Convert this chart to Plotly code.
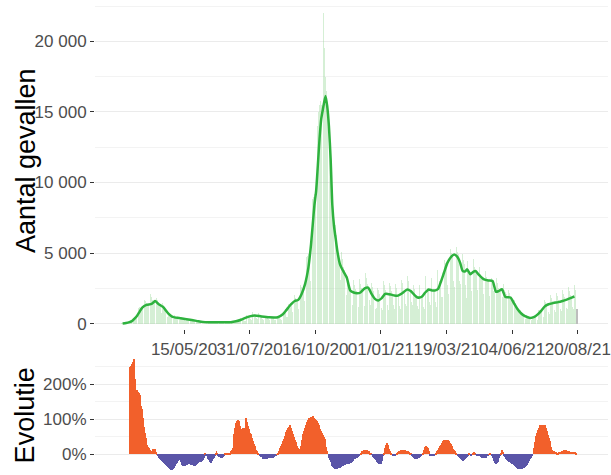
import pandas as pd
import plotly.graph_objects as go

# ---------------- data ----------------
# daily confirmed cases, starting Monday 2020-03-02 (one row per week)
cases = [
    10, 15, 20, 25, 30, 20, 20,
    60, 90, 120, 150, 190, 190, 200,
    350, 400, 450, 500, 550, 430, 400,
    1100, 1150, 1100, 1150, 1150, 850, 800,
    1700, 1600, 1450, 1400, 1350, 900, 750,
    2100, 1900, 1700, 1600, 1450, 950, 800,
    1800, 1700, 1500, 1400, 1300, 850, 750,
    1450, 1300, 1150, 1050, 950, 600, 500,
    800, 720, 640, 580, 540, 360, 300,
    580, 520, 460, 430, 400, 260, 230,
    480, 430, 380, 360, 330, 220, 190,
    400, 350, 310, 290, 280, 180, 150,
    300, 265, 235, 220, 210, 135, 115,
    215, 190, 165, 155, 150, 95, 80,
    140, 125, 110, 105, 100, 65, 55,
    125, 112, 100, 95, 90, 58, 50,
    130, 110, 98, 92, 88, 60, 52,
    120, 105, 95, 90, 85, 55, 45,
    130, 120, 110, 105, 100, 65, 70,
    210, 200, 190, 180, 175, 120, 115,
    380, 360, 340, 320, 310, 200, 190,
    620, 580, 550, 520, 500, 320, 270,
    800, 710, 630, 600, 570, 370, 310,
    730, 650, 570, 550, 520, 340, 280,
    630, 560, 500, 470, 450, 290, 250,
    590, 525, 460, 440, 420, 275, 230,
    620, 570, 510, 490, 480, 300, 250,
    880, 820, 760, 740, 730, 500, 470,
    1500, 1400, 1300, 1300, 1280, 850, 770,
    2200, 2000, 1800, 1700, 1650, 1050, 940,
    2900, 2700, 2600, 2550, 2500, 1600, 1250,
    4600, 4700, 4800, 4900, 4800, 3000, 2600,
    8600, 8800, 9000, 9200, 9000, 6100, 5300,
    14000, 15000, 15500, 15800, 15500, 10200, 8500,
    22000, 19500, 17500, 16500, 15000, 10000, 10100,
    12500, 11000, 9500, 8500, 7500, 5000, 4800,
    7000, 6300, 5400, 5000, 4600, 2900, 3100,
    5100, 4600, 4000, 3800, 3600, 2400, 2050,
    3400, 3000, 2650, 2500, 2400, 1500, 1350,
    3100, 2750, 2420, 2300, 2200, 1430, 1200,
    3150, 2800, 2500, 2350, 2250, 1450, 1250,
    3600, 3200, 2800, 2700, 2550, 1650, 1350,
    2900, 2600, 2300, 2000, 1400, 1000, 1100,
    2500, 2400, 2100, 1500, 1000, 1100, 950,
    3000, 2700, 2400, 2250, 2100, 1300, 950,
    2900, 2650, 2300, 2200, 2100, 1350, 1060,
    2800, 2500, 2200, 2100, 2000, 1250, 1010,
    3100, 2850, 2500, 2400, 2250, 1400, 1250,
    3400, 3000, 2650, 2500, 2400, 1550, 1300,
    2750, 2450, 2150, 2050, 1950, 1250, 1050,
    2700, 2400, 2100, 2000, 1900, 1200, 1000,
    3400, 3000, 2650, 2500, 2400, 1550, 1300,
    3250, 2900, 2550, 2400, 2300, 1500, 1200,
    3800, 3500, 3200, 3050, 2950, 1900, 1900,
    5300, 5000, 4500, 4300, 4100, 2700, 2100,
    6300, 5900, 5300, 5000, 4800, 3000, 2600,
    6400, 6000, 5400, 5100, 4900, 3000, 2800,
    3000, 5500, 4900, 4500, 4200, 2700, 1800,
    5000, 4400, 3900, 3700, 3550, 2300, 2000,
    5100, 4600, 4000, 3800, 3650, 2400, 2000,
    4500, 4000, 3500, 3350, 3200, 2100, 1750,
    4200, 3750, 3300, 3150, 3000, 1950, 1650,
    3650, 3250, 2850, 2300, 2600, 1700, 1850,
    3200, 2900, 2550, 2400, 2300, 1500, 1250,
    1900, 2800, 2400, 2250, 2100, 1100, 750,
    2400, 2150, 1900, 1800, 1700, 1050, 900,
    1650, 1450, 1200, 1100, 1000, 650, 650,
    950, 850, 720, 680, 620, 400, 330,
    600, 540, 470, 440, 410, 250, 230,
    560, 540, 510, 490, 480, 310, 260,
    950, 950, 900, 880, 860, 570, 490,
    1650, 1550, 1400, 1350, 1300, 850, 650,
    2000, 1800, 1600, 1520, 1450, 950, 830,
    2150, 1950, 1700, 1630, 1550, 1000, 870,
    2350, 2100, 1850, 1800, 1700, 1100, 1000,
    2600, 2300, 2050, 1950, 1850, 1200, 1000,
    2700, 2400, 2150, 1000,
]
cases_start = "2020-03-02"

# smoothed number of cases
trend_dates = [
    "2020-03-04", "2020-03-08", "2020-03-12", "2020-03-15", "2020-03-18", "2020-03-21",
    "2020-03-24", "2020-03-27", "2020-04-01", "2020-04-07", "2020-04-11", "2020-04-15",
    "2020-04-21", "2020-04-24", "2020-04-27", "2020-05-01", "2020-05-05", "2020-05-09",
    "2020-05-16", "2020-05-24", "2020-06-01", "2020-06-06", "2020-06-12", "2020-06-20",
    "2020-07-01", "2020-07-09", "2020-07-15", "2020-07-21", "2020-07-26", "2020-07-31",
    "2020-08-06", "2020-08-14", "2020-08-23", "2020-09-02", "2020-09-08", "2020-09-12",
    "2020-09-16", "2020-09-19", "2020-09-22", "2020-09-26", "2020-09-30", "2020-10-04",
    "2020-10-08", "2020-10-11", "2020-10-13", "2020-10-15", "2020-10-17", "2020-10-19",
    "2020-10-21", "2020-10-23", "2020-10-25", "2020-10-28", "2020-10-30", "2020-11-01",
    "2020-11-03", "2020-11-05", "2020-11-07", "2020-11-09", "2020-11-11", "2020-11-14",
    "2020-11-18", "2020-11-22", "2020-11-26", "2020-11-30", "2020-12-04", "2020-12-08",
    "2020-12-13", "2020-12-17", "2020-12-21", "2020-12-25", "2020-12-29", "2021-01-02",
    "2021-01-06", "2021-01-09", "2021-01-13", "2021-01-17", "2021-01-21", "2021-01-26",
    "2021-02-01", "2021-02-05", "2021-02-09", "2021-02-13", "2021-02-18", "2021-02-22",
    "2021-02-26", "2021-03-02", "2021-03-06", "2021-03-09", "2021-03-12", "2021-03-16",
    "2021-03-20", "2021-03-24", "2021-03-28", "2021-04-01", "2021-04-04", "2021-04-07",
    "2021-04-10", "2021-04-12", "2021-04-16", "2021-04-19", "2021-04-22", "2021-04-26",
    "2021-05-02", "2021-05-07", "2021-05-12", "2021-05-16", "2021-05-19", "2021-05-23",
    "2021-05-27", "2021-06-02", "2021-06-06", "2021-06-10", "2021-06-14", "2021-06-19",
    "2021-06-25", "2021-06-30", "2021-07-04", "2021-07-08", "2021-07-12", "2021-07-16",
    "2021-07-22", "2021-07-28", "2021-08-02", "2021-08-07", "2021-08-12", "2021-08-16",
]
trend_values = [
    5, 40, 100, 170, 350, 560,
    850, 1130, 1330, 1390, 1600, 1390,
    1150, 900, 680, 490, 420, 395,
    330, 255, 165, 120, 95, 90,
    85, 95, 160, 270, 400, 510,
    580, 500, 440, 450, 660, 950,
    1260, 1450, 1600, 1680, 2100, 2800,
    4000, 5600, 7000, 8400, 9400, 11200,
    13100, 14500, 15200, 16130, 15400, 14000,
    11700, 8400, 6900, 6000, 5100, 4200,
    3700, 3250, 2350, 2200, 2150, 2200,
    2500, 2550, 2100, 1750, 1640, 1800,
    2100, 2100, 2050, 1990, 1980, 2150,
    2420, 2300, 2050, 1850, 1900, 2200,
    2420, 2350, 2350, 2450, 2900, 3600,
    4300, 4700, 4900, 4700, 4300, 3720,
    3700, 3850, 3490, 3650, 3720, 3450,
    3130, 3050, 3020, 2250, 2300, 2430,
    1880, 1850, 1450, 1050, 750, 520,
    400, 470, 650, 900, 1200, 1350,
    1450, 1520, 1600, 1700, 1820, 1920,
]

# week-on-week evolution (%), daily from 2020-03-13 (one row per month)
evolution_pct = [
    250, 252, 258, 262, 272, 248, 215, 184, 182, 178, 174, 168, 150, 137, 130, 105, 78, 60, 47,
    36, 26, 21, 19, 12, 9, 11, 14, 16, 17, 15, 6, 1, -3, -6, -11, -14, -16, -18, -21, -24, -26, -28, -31, -33, -36, -38, -40, -42, -43,
    -44, -41, -38, -35, -32, -28, -24, -18, -14, -17, -20, -28, -30, -32, -33, -33, -31, -30, -29, -28, -27, -28, -29, -28, -30, -31, -32, -33, -30, -27, -25,
    -24, -22, -21, -20, -19, -16, -12, -9, 5, -2, -5, -14, -17, -20, -22, -24, -19, -14, -9, -5, 3, 9, 2, -3, -6, -8, -9, -9, -9, -6,
    -3, 2, 4, 5, 5, 4, 5, 5, 9, 14, 19, 38, 57, 75, 90, 96, 99, 97, 94, 82, 71, 73, 75, 75, 75, 88, 104, 92, 80, 73, 66,
    62, 57, 48, 38, 31, 24, 19, 14, 9, 5, 1, -3, -6, -8, -10, -12, -13, -14, -13, -12, -11, -11, -11, -11, -11, -10, -9, -8, -8, -5, -3,
    1, 5, 10, 14, 19, 24, 31, 38, 45, 52, 58, 64, 70, 75, 79, 83, 80, 75, 67, 59, 50, 42, 36, 30, 24, 19, 15, 11, 25, 42,
    50, 58, 66, 75, 83, 91, 99, 101, 103, 105, 106, 107, 108, 106, 104, 101, 97, 94, 90, 84, 78, 72, 66, 61, 56, 50, 45, 34, 22, 9, 0,
    -9, -15, -21, -27, -33, -36, -38, -40, -42, -41, -40, -39, -38, -37, -35, -34, -33, -32, -31, -29, -28, -28, -28, -27, -26, -25, -24, -21, -19, -16,
    -14, -12, -10, -9, -8, -5, -3, 0, 3, 9, 10, 12, 13, 14, 13, 12, 10, 9, 5, 2, -1, -3, -6, -9, -13, -17, -21, -24, -25, -26, -26,
    -26, -18, -10, -2, 5, 19, 26, 33, 28, 24, 16, 9, 4, 0, -3, -5, -4, -2, 0, 3, 6, 9, 11, 13, 14, 14, 13, 13, 12, 12, 11,
    10, 9, 8, 5, 2, -2, -5, -8, -11, -13, -14, -13, -12, -11, -11, -8, -4, 0, 5, 12, 19, 22, 25, 22, 18, 13, 9, -2,
    -3, -3, -3, -2, -1, -1, 3, 9, 14, 19, 24, 28, 31, 34, 37, 40, 41, 42, 42, 41, 40, 38, 34, 30, 25, 21, 17, 13, 9, 5, 1,
    -3, -5, -8, -11, -14, -17, -19, -17, -15, -13, -11, -8, -3, 5, 1, -2, -3, -1, 2, 6, 2, -1, -2, -3, -4, -4, -5, -6, -8, -9,
    -10, -11, -11, -10, -8, -5, -2, 1, 3, 1, -5, -10, -14, -19, -23, -26, -24, -21, -18, -10, -3, 5, 14, 6, -3, -8, -11, -14, -17, -19, -21,
    -22, -23, -24, -26, -28, -31, -33, -35, -37, -39, -40, -41, -42, -42, -41, -40, -39, -38, -35, -33, -30, -28, -24, -19, -14, -9, -5, -2, 8, 19,
    36, 52, 62, 71, 76, 80, 83, 84, 85, 85, 84, 84, 83, 75, 66, 56, 47, 38, 30, 22, 14, 11, 9, 8, 7, 6, 5, 5, 6, 7, 8,
    9, 10, 11, 12, 13, 12, 11, 10, 9, 9, 8, 8, 8, 7, 7, 7, 6, 5,
]
evolution_start = "2020-03-13"

tick_dates = ["2020-05-15", "2020-07-31", "2020-10-16", "2021-01-01",
              "2021-03-19", "2021-06-04", "2021-08-20"]
tick_labels = ["15/05/20", "31/07/20", "16/10/20", "01/01/21",
               "19/03/21", "04/06/21", "20/08/21"]

# ---------------- figure ----------------
case_dates = pd.date_range(cases_start, periods=len(cases), freq="D")
evo_dates = pd.date_range(evolution_start, periods=len(evolution_pct), freq="D")
evo_frac = [v / 100 for v in evolution_pct]

bar_colors = ["rgba(150,215,150,0.4)"] * (len(cases) - 1) + ["#BDBDBD"]
evo_colors = ["#F2602B" if v >= 0 else "#5A55A8" for v in evolution_pct]

FONT = "Liberation Sans, Arial, sans-serif"
DAY_MS = 86400000
H = 475

fig = go.Figure()
fig.add_trace(go.Bar(x=case_dates, y=cases, marker=dict(color=bar_colors, line=dict(width=0)),
                     width=DAY_MS * 0.85, xaxis="x", yaxis="y", hoverinfo="skip"))
fig.add_trace(go.Scatter(x=pd.to_datetime(trend_dates), y=trend_values, mode="lines",
                         line=dict(color="#2EB23E", width=2.5, shape="spline", smoothing=0.6),
                         xaxis="x", yaxis="y"))
fig.add_trace(go.Bar(x=evo_dates, y=evo_frac, marker=dict(color=evo_colors, line=dict(width=0)),
                     width=DAY_MS * 0.85, xaxis="x2", yaxis="y2"))

xrange = ["2020-01-31 14:00", "2021-09-24 10:00"]
tick_common = dict(tickfont=dict(family=FONT, size=17, color="#4D4D4D"),
                   ticks="outside", ticklen=4, tickwidth=1, tickcolor="#333333")

fig.update_layout(
    width=611, height=H,
    margin=dict(l=95, r=0, t=0, b=0),
    paper_bgcolor="white", plot_bgcolor="white",
    showlegend=False, bargap=0, separators=", ",
    font=dict(family=FONT),
    xaxis=dict(type="date", range=xrange, domain=[0, 1], anchor="y",
               tickmode="array", tickvals=tick_dates, ticktext=tick_labels, tickangle=0,
               ticklabeloverflow="allow",
               showgrid=False, zeroline=False, showline=False, **tick_common),
    yaxis=dict(domain=[(H - 332) / H, 1], range=[-400, 22930], tickmode="linear", tick0=0, dtick=5000,
               tickformat=",d", showgrid=True, gridcolor="#EBEBEB", gridwidth=1.1,
               zeroline=False, showline=False,
               minor=dict(dtick=2500, tick0=0, showgrid=True, gridcolor="#F3F3F3", gridwidth=0.8, ticks=""),
               **tick_common),
    xaxis2=dict(type="date", range=xrange, domain=[0, 1], anchor="y2", matches="x",
                showticklabels=False, ticks="", showgrid=False, zeroline=False, showline=False),
    yaxis2=dict(domain=[0, (H - 360) / H], range=[-0.47, 2.77], tickmode="linear", tick0=0, dtick=1,
                tickformat=".0%", showgrid=True, gridcolor="#EBEBEB", gridwidth=1.1,
                zeroline=False, showline=False,
                minor=dict(dtick=0.5, tick0=0, showgrid=True, gridcolor="#F3F3F3", gridwidth=0.8, ticks=""),
                **tick_common),
    annotations=[
        dict(text="Aantal gevallen", xref="paper", yref="paper", x=(25 - 95) / 516, y=(H - 162) / H,
             xanchor="center", yanchor="middle", textangle=-90, showarrow=False,
             font=dict(family=FONT, size=27, color="black")),
        dict(text="Evolutie", xref="paper", yref="paper", x=(25 - 95) / 516, y=(H - 418.5) / H,
             xanchor="center", yanchor="middle", textangle=-90, showarrow=False,
             font=dict(family=FONT, size=27, color="black")),
    ],
)

page_css = (
    "var h=document.documentElement,b=document.body;"
    "h.style.margin='0';h.style.padding='0';h.style.overflow='hidden';"
    "b.style.margin='0';b.style.padding='0';b.style.overflow='hidden';"
)
fig.write_html("out.html", config={"displayModeBar": False}, post_script=page_css)
